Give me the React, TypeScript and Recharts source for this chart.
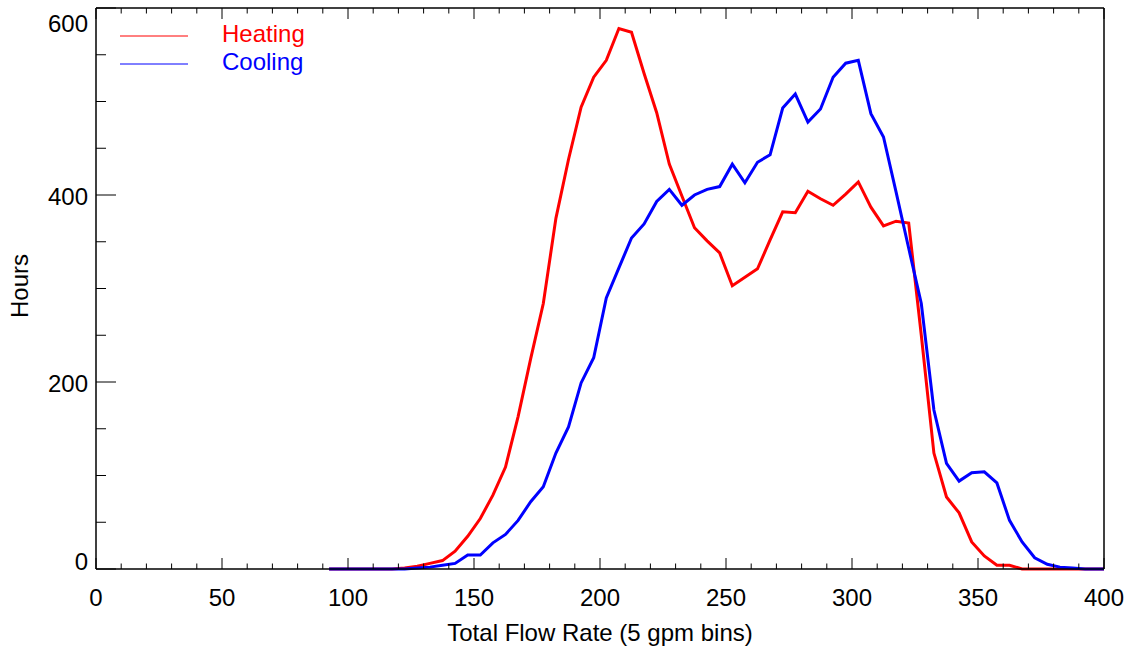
import React from "react";
import { LineChart, Line, XAxis, YAxis, Legend } from "recharts";

// bin centres (5 gpm bins)
const flowBins = [
  92.5, 97.5, 102.5, 107.5, 112.5, 117.5, 122.5, 127.5, 132.5, 137.5,
  142.5, 147.5, 152.5, 157.5, 162.5, 167.5, 172.5, 177.5, 182.5, 187.5,
  192.5, 197.5, 202.5, 207.5, 212.5, 217.5, 222.5, 227.5, 232.5, 237.5,
  242.5, 247.5, 252.5, 257.5, 262.5, 267.5, 272.5, 277.5, 282.5, 287.5,
  292.5, 297.5, 302.5, 307.5, 312.5, 317.5, 322.5, 327.5, 332.5, 337.5,
  342.5, 347.5, 352.5, 357.5, 362.5, 367.5, 372.5, 377.5, 382.5, 387.5,
  392.5, 397.5, 402.5,
];

const heatingHours = [
  0, 0, 0, 0, 0, 0, 1, 3, 6, 9,
  19, 35, 54, 79, 109, 163, 225, 284, 375, 438,
  494, 526, 544, 578, 574, 530, 488, 433, 399, 365,
  351, 338, 303, 312, 321, 352, 382, 381, 404, 396,
  389, 401, 414, 387, 367, 372, 370, 250, 124, 77,
  60, 29, 14, 4, 4, 0, 0, 0, 0, 0,
  0, 0, 0,
];

const coolingHours = [
  0, 0, 0, 0, 0, 0, 0, 1, 2, 4,
  6, 15, 15, 28, 37, 52, 72, 88, 124, 152,
  199, 226, 290, 322, 354, 369, 393, 406, 389, 400,
  406, 409, 433, 413, 435, 443, 493, 508, 478, 492,
  526, 541, 544, 487, 462, 403, 343, 284, 170, 113,
  94, 103, 104, 92, 52, 29, 12, 5, 2, 1,
  0, 0, 0,
];

const xTicks = [
  0, 10, 20, 30, 40, 50, 60, 70, 80, 90, 100, 110, 120, 130, 140, 150, 160,
  170, 180, 190, 200, 210, 220, 230, 240, 250, 260, 270, 280, 290, 300, 310,
  320, 330, 340, 350, 360, 370, 380, 390, 400,
];
const yTicks = [0, 50, 100, 150, 200, 250, 300, 350, 400, 450, 500, 550, 600];

const legendOrder = ["Heating", "Cooling"];

const data = flowBins.map((x, i) => ({
  x,
  heating: heatingHours[i],
  cooling: coolingHours[i],
}));

const FONT = "'Liberation Sans', Arial, Helvetica, sans-serif";

const BottomTick = ({ x, y, payload }: any) => {
  const major = payload.value % 50 === 0;
  return (
    <g>
      <line x1={x} x2={x} y1={y} y2={y - (major ? 11 : 5.5)} stroke="#000" />
      {major && (
        <text x={x} y={y + 37} textAnchor="middle" fontSize={24} fontFamily={FONT} fill="#000">
          {payload.value}
        </text>
      )}
    </g>
  );
};

const TopTick = ({ x, y, payload }: any) => {
  const major = payload.value % 50 === 0;
  return <line x1={x} x2={x} y1={y} y2={y + (major ? 11 : 5.5)} stroke="#000" />;
};

const LeftTick = ({ x, y, payload }: any) => {
  const major = payload.value % 200 === 0;
  // the end labels sit inside the axis range
  const dy = payload.value === 600 ? 16 : payload.value === 0 ? -7 : 2;
  return (
    <g>
      <line x1={x} x2={x + (major ? 20 : 10)} y1={y} y2={y} stroke="#000" />
      {major && (
        <text x={x - 8} y={y + dy + 8} textAnchor="end" fontSize={24} fontFamily={FONT} fill="#000">
          {payload.value}
        </text>
      )}
    </g>
  );
};

const RightTick = ({ x, y, payload }: any) => {
  const major = payload.value % 200 === 0;
  return <line x1={x} x2={x - (major ? 20 : 10)} y1={y} y2={y} stroke="#000" />;
};

const LegendBox = ({ payload }: any) => {
  const items = [...(payload || [])].sort(
    (a: any, b: any) => legendOrder.indexOf(a.value) - legendOrder.indexOf(b.value)
  );
  return (
    <svg width={330} height={90} style={{ display: "block" }}>
      {items.map((p: any, i: number) => (
        <g key={p.value}>
          <line x1={120} x2={188} y1={36 + 28 * i} y2={36 + 28 * i} stroke={p.color} strokeWidth={1} />
          <text x={222} y={42 + 28 * i} fontSize={24} fontFamily={FONT} fill={p.color}>
            {p.value}
          </text>
        </g>
      ))}
    </svg>
  );
};

export default function App() {
  return (
    <div style={{ position: "absolute", left: 0, top: 0, background: "#fff" }}>
      <LineChart
        width={1133}
        height={652}
        data={data}
        margin={{ top: 7, right: 28, bottom: 0, left: 0 }}
      >
        <XAxis
          xAxisId="b"
          dataKey="x"
          type="number"
          domain={[0, 400]}
          allowDataOverflow
          ticks={xTicks}
          interval={0}
          height={83}
          tickSize={0}
          tickMargin={0}
          tickLine={false}
          axisLine={{ stroke: "#000", strokeWidth: 1.5 }}
          tick={<BottomTick />}
          label={{
            content: () => (
              <text x={600} y={641} textAnchor="middle" fontSize={24} fontFamily={FONT} fill="#000">
                Total Flow Rate (5 gpm bins)
              </text>
            ),
          }}
        />
        <XAxis
          xAxisId="t"
          orientation="top"
          dataKey="x"
          type="number"
          domain={[0, 400]}
          allowDataOverflow
          ticks={xTicks}
          interval={0}
          height={1}
          tickSize={0}
          tickMargin={0}
          tickLine={false}
          axisLine={{ stroke: "#000", strokeWidth: 1.5 }}
          tick={<TopTick />}
        />
        <YAxis
          yAxisId="l"
          type="number"
          domain={[0, 600]}
          ticks={yTicks}
          interval={0}
          width={96}
          tickSize={0}
          tickMargin={0}
          tickLine={false}
          axisLine={{ stroke: "#000", strokeWidth: 1.5 }}
          tick={<LeftTick />}
          label={{
            content: () => (
              <text
                x={28}
                y={286}
                textAnchor="middle"
                fontSize={24}
                fontFamily={FONT}
                fill="#000"
                transform="rotate(-90 28 286)"
              >
                Hours
              </text>
            ),
          }}
        />
        <YAxis
          yAxisId="r"
          orientation="right"
          type="number"
          domain={[0, 600]}
          ticks={yTicks}
          interval={0}
          width={1}
          tickSize={0}
          tickMargin={0}
          tickLine={false}
          axisLine={{ stroke: "#000", strokeWidth: 1.5 }}
          tick={<RightTick />}
        />
        <Legend
          layout="vertical"
          align="center"
          verticalAlign="middle"
          wrapperStyle={{ left: 0, top: 0, width: 330, height: 90 }}
          content={<LegendBox />}
        />
        <Line
          xAxisId="b"
          yAxisId="l"
          type="linear"
          dataKey="heating"
          name="Heating"
          stroke="#ff0000"
          strokeWidth={3}
          dot={false}
          isAnimationActive={false}
        />
        <Line
          xAxisId="b"
          yAxisId="l"
          type="linear"
          dataKey="cooling"
          name="Cooling"
          stroke="#0000ff"
          strokeWidth={3}
          dot={false}
          isAnimationActive={false}
        />
      </LineChart>
    </div>
  );
}
